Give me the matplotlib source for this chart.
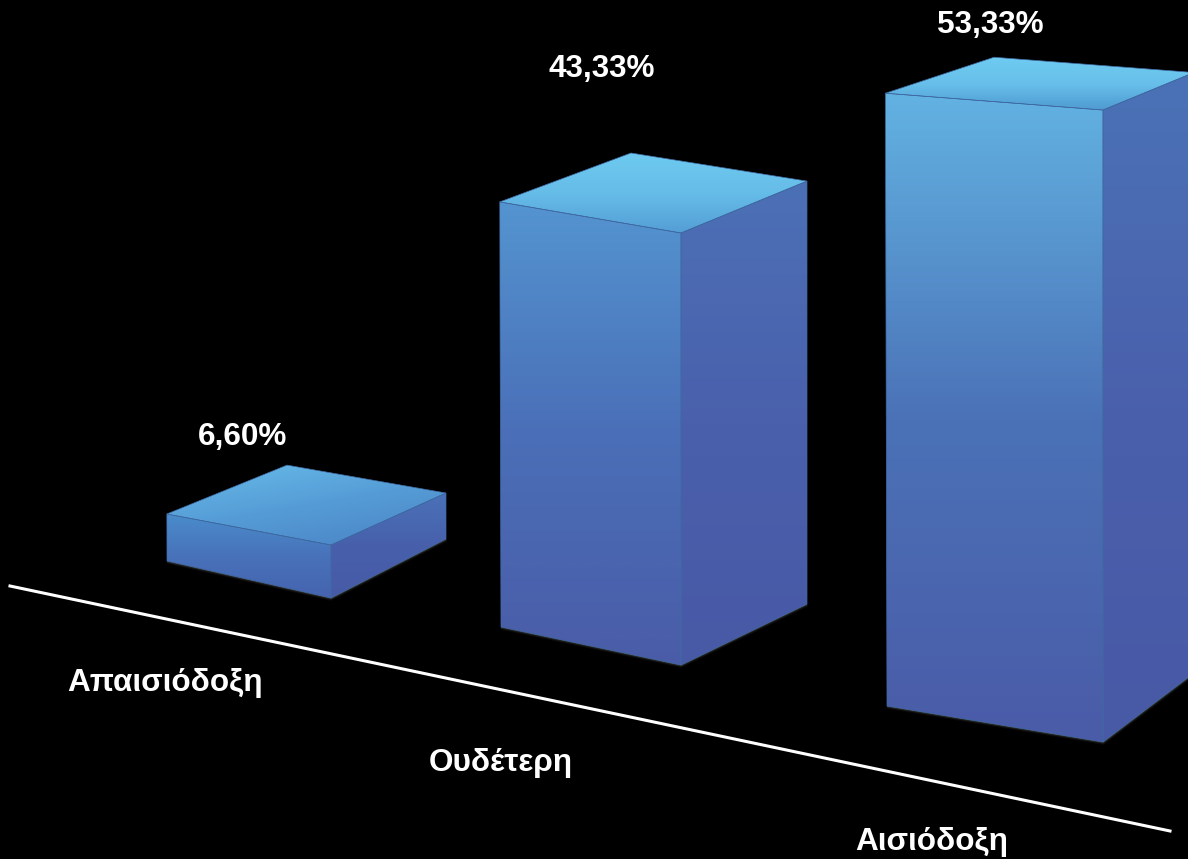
import matplotlib
matplotlib.use('Agg')
import matplotlib.pyplot as plt
import numpy as np
from matplotlib.colors import LinearSegmentedColormap
from matplotlib.patches import Polygon

# dane
categories = ['Απαισιόδοξη', 'Ουδέτερη', 'Αισιόδοξη']
values = [6.60, 43.33, 53.33]

# rzut perspektywiczny: podstawy slupkow w pikselach obrazka (L, F, R, B)
base_x = [[167, 331, 446, 287], [501, 681, 807, 631], [887, 1103, 1194, 994]]
base_y = [[561, 598, 539, 510], [627, 665, 604, 572], [706, 742, 673, 654]]
# ile pikseli na 1% w kazdym rogu
scale_y = [[7.12, 8.03, 6.97, 6.80], [9.81, 9.97, 9.76, 9.67], [11.49, 11.85, 11.26, 11.19]]
lean_x = [0.15, 0.0, 0.0, 0.0]

label_pos = [(243, 437), (602, 69), (990, 25)]
cat_pos = [(165, 683), (501, 763), (932, 842)]
axis_x = [10, 1170]
axis_y = [586, 831]

# kolory gradientow: (gora, srodek, dol)
front_cols = [['#4a8ccb', '#4872ba', '#4663b0'],
              ['#5494d0', '#4a6fb8', '#4a5ca8'],
              ['#62b2e2', '#4b72b7', '#4a5ba8']]
side_cols = [['#4a72b8', '#4860ac', '#475aa6'],
             ['#4c70b6', '#4a60ac', '#4859a6'],
             ['#4b72b6', '#4a60ac', '#4859a6']]
top_cols = [['#68bdea', '#559cd6', '#4a82c4'],
            ['#6ecaf0', '#66bde8', '#549ed6'],
            ['#6ecbf0', '#68c0ea', '#4f9ad2']]
# nachylenie gradientu gornej sciany (tylko maly slupek ma ukos)
top_tilt = [0.6, 0.0, 0.0]


def gradient_face(ax, xs, ys, cols, tilt=0.0):
    pts = np.column_stack([xs, ys])
    x0, x1, y0, y1 = min(xs), max(xs), min(ys), max(ys)
    gx, gy = np.meshgrid(np.linspace(0, 1, 200), np.linspace(0, 1, 200))
    g = (gy + tilt * gx) / (1 + tilt)
    cmap = LinearSegmentedColormap.from_list('g', cols)
    im = ax.imshow(g, cmap=cmap, vmin=0, vmax=1, extent=[x0, x1, y1, y0], aspect='auto',
                   interpolation='bilinear', zorder=3)
    patch = Polygon(pts, closed=True, facecolor='none', edgecolor='#3f6aa4', linewidth=0.5, zorder=4)
    ax.add_patch(patch)
    im.set_clip_path(patch)


plt.rcParams['font.family'] = ['Liberation Sans', 'DejaVu Sans']
fig = plt.figure(figsize=(11.88, 8.59), dpi=100, facecolor='black')
ax = fig.add_axes([0, 0, 1, 1])
ax.set_facecolor('black')

for i, v in enumerate(values):
    bx, by, sc = base_x[i], base_y[i], scale_y[i]
    tx = [bx[k] - lean_x[k] * v * 0.2 for k in range(4)]
    ty = [by[k] - sc[k] * v for k in range(4)]

    # poswiata pod slupkiem
    for lw, a in [(4, 0.04), (2.5, 0.07), (1.2, 0.12)]:
        ax.plot([bx[0], bx[1], bx[2]], [by[0], by[1], by[2]], color='white', lw=lw, alpha=a, zorder=2,
                solid_capstyle='butt')

    gradient_face(ax, [tx[0], tx[1], bx[1], bx[0]], [ty[0], ty[1], by[1], by[0]], front_cols[i])
    gradient_face(ax, [tx[1], tx[2], bx[2], bx[1]], [ty[1], ty[2], by[2], by[1]], side_cols[i])
    gradient_face(ax, [tx[0], tx[3], tx[2], tx[1]], [ty[0], ty[3], ty[2], ty[1]], top_cols[i], top_tilt[i])

    ax.text(label_pos[i][0], label_pos[i][1], f'{v:.2f}'.replace('.', ',') + '%', color='white',
            fontsize=22.7, fontweight='bold', ha='center', va='center', zorder=5)
    ax.text(cat_pos[i][0], cat_pos[i][1], categories[i], color='white',
            fontsize=22.7, fontweight='bold', ha='center', va='center', zorder=5)

ax.plot(axis_x, axis_y, color='white', lw=2.2, zorder=2)

ax.set_xlim(0, 1188)
ax.set_ylim(859, 0)
ax.axis('off')

fig.savefig('out.png', dpi=100, facecolor='black')
